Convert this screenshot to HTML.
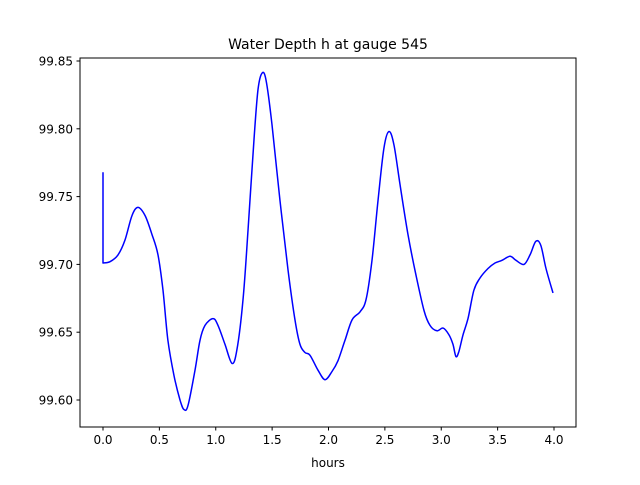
<!DOCTYPE html>
<html><head><meta charset="utf-8"><style>
body{margin:0;background:#fff}
svg text{font-family:"DejaVu Sans","Liberation Sans",sans-serif;fill:#000}
</style></head><body>
<svg id="chart" width="640" height="480" xmlns="http://www.w3.org/2000/svg">
<rect x="0" y="0" width="640" height="480" fill="#fff"/>
<text x="328" y="49" font-size="14" text-anchor="middle">Water Depth h at gauge 545</text>
<g id="xt"></g>
<g id="yt"></g>
<text x="328" y="467" font-size="12" text-anchor="middle">hours</text>
<g id="plot"></g>
<rect x="80" y="58" width="496" height="369" fill="none" stroke="#000" stroke-width="1"/>
</svg>
<script>
const hours=[0,0,0.062,0.133,0.195,0.257,0.31,0.373,0.435,0.488,0.532,0.576,0.63,0.683,0.718,0.754,0.816,0.86,0.905,0.976,1.02,1.082,1.144,1.188,1.242,1.286,1.339,1.375,1.41,1.446,1.499,1.57,1.641,1.703,1.747,1.792,1.836,1.907,1.969,2.031,2.084,2.146,2.208,2.279,2.333,2.386,2.439,2.492,2.537,2.581,2.634,2.705,2.776,2.847,2.9,2.962,3.016,3.069,3.104,3.131,3.157,3.193,3.237,3.29,3.344,3.415,3.477,3.539,3.61,3.663,3.734,3.787,3.839,3.883,3.929,3.991];
const depth=[99.768,99.701,99.702,99.707,99.718,99.736,99.742,99.736,99.722,99.707,99.681,99.644,99.618,99.600,99.593,99.596,99.622,99.644,99.655,99.660,99.655,99.641,99.627,99.637,99.674,99.725,99.792,99.829,99.841,99.836,99.803,99.747,99.696,99.659,99.641,99.635,99.633,99.622,99.615,99.621,99.629,99.644,99.659,99.665,99.674,99.703,99.747,99.786,99.798,99.788,99.759,99.722,99.692,99.666,99.655,99.651,99.653,99.648,99.641,99.632,99.636,99.648,99.660,99.681,99.690,99.697,99.701,99.703,99.706,99.703,99.700,99.707,99.717,99.714,99.697,99.679];
const xTicks=[0,0.5,1,1.5,2,2.5,3,3.5,4];
const yTicks=[99.60,99.65,99.70,99.75,99.80,99.85];
const X=v=>103+v*112.75;
const Y=v=>61+(99.85-v)*1356;
const NS="http://www.w3.org/2000/svg";
function mk(t,a,p){const e=document.createElementNS(NS,t);for(const k in a)e.setAttribute(k,a[k]);p.appendChild(e);return e;}
const xt=document.getElementById('xt'),yt=document.getElementById('yt'),plot=document.getElementById('plot');
xTicks.forEach(v=>{
 const l=mk('line',{x1:X(v),x2:X(v),y1:427,y2:430.5,stroke:'#000'},xt);
 
 
 const t=mk('text',{x:X(v),y:444,'font-size':12,'text-anchor':'middle'},xt);t.textContent=v.toFixed(1);
 
 
});
yTicks.forEach(v=>{
 const l=mk('line',{x1:76.5,x2:80,y1:Y(v),y2:Y(v),stroke:'#000'},yt);
 
 
 const t=mk('text',{x:73,y:Y(v)+4.5,'font-size':12,'text-anchor':'end'},yt);t.textContent=v.toFixed(2);
 
 
});
const P=hours.map((h,i)=>[X(h),Y(depth[i])]);
let d='M'+P[0][0].toFixed(1)+','+P[0][1].toFixed(1)+' L'+P[1][0].toFixed(1)+','+P[1][1].toFixed(1);
for(let i=1;i<P.length-1;i++){
 const p0=P[Math.max(i-1,1)],p1=P[i],p2=P[i+1],p3=P[Math.min(i+2,P.length-1)];
 const c1=[p1[0]+(p2[0]-p0[0])/6,p1[1]+(p2[1]-p0[1])/6];
 const c2=[p2[0]-(p3[0]-p1[0])/6,p2[1]-(p3[1]-p1[1])/6];
 d+=' C'+c1[0].toFixed(1)+','+c1[1].toFixed(1)+' '+c2[0].toFixed(1)+','+c2[1].toFixed(1)+' '+p2[0].toFixed(1)+','+p2[1].toFixed(1);
}
const line=mk('path',{d:d,fill:'none',stroke:'#0000ff','stroke-width':1.5,'stroke-linejoin':'round'},plot);


</script>
</body></html>
